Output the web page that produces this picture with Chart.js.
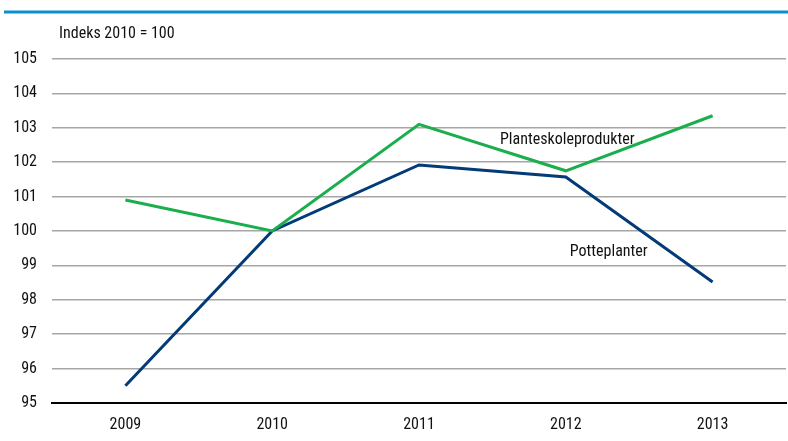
<!DOCTYPE html>
<html><head><meta charset="utf-8">
<script src="https://cdn.jsdelivr.net/npm/chart.js@4"></script>
<style>html,body{margin:0;padding:0;background:#fff}#wrap{position:relative;width:788px;height:441px}canvas{display:block}</style>
</head><body><div id="wrap"><canvas id="c" width="788" height="441"></canvas></div>
<script>
const categories = ['2009','2010','2011','2012','2013'];
const planteskole = [100.9, 100.0, 103.1, 101.75, 103.35];
const potteplanter = [95.5, 100.0, 101.92, 101.57, 98.52];
const yTicks = [95,96,97,98,99,100,101,102,103,104,105];
const unitLabel = 'Indeks 2010 = 100';
const seriesNames = ['Planteskoleprodukter','Potteplanter'];
const FONT = '"Liberation Sans Narrow", "Roboto Condensed", "DejaVu Sans Condensed", sans-serif';

const decor = {
  id:'decor',
  afterDraw(chart){
    const ctx = chart.ctx, x = chart.scales.x, y = chart.scales.y;
    ctx.save();
    ctx.strokeStyle = '#0a8fd0'; ctx.lineWidth = 3;
    ctx.beginPath(); ctx.moveTo(4,12); ctx.lineTo(788,12); ctx.stroke();
    ctx.fillStyle = '#111'; ctx.font = '16px ' + FONT;
    ctx.textBaseline = 'middle'; ctx.textAlign = 'left';
    ctx.fillText(unitLabel, 59, 34);
    ctx.fillText(seriesNames[0], x.getPixelForValue(2) + 81, y.getPixelForValue(102.65));
    ctx.fillText(seriesNames[1], x.getPixelForValue(3) + 4, y.getPixelForValue(99.4));
    ctx.restore();
  }
};

new Chart(document.getElementById('c'), {
  type:'line',
  data:{labels:categories, datasets:[
    {label:seriesNames[0], data:planteskole, borderColor:'#1aae4c', borderWidth:3, pointRadius:0, tension:0, fill:false},
    {label:seriesNames[1], data:potteplanter, borderColor:'#033a78', borderWidth:3, pointRadius:0, tension:0, fill:false}
  ]},
  options:{
    responsive:false, animation:false, devicePixelRatio:1,
    layout:{padding:{top:59, right:2, bottom:0, left:0}},
    plugins:{legend:{display:false}, tooltip:{enabled:false}, title:{display:false}},
    scales:{
      x:{offset:true,
        afterFit(s){ s.height = 38; },
        grid:{display:false, drawTicks:false},
        border:{display:true, color:'#000', width:2},
        ticks:{color:'#111', font:{family:FONT, size:16}, padding:12}
      },
      y:{min:95, max:105,
        afterFit(s){ s.width = 52; },
        afterBuildTicks(s){ s.ticks = yTicks.map(v=>({value:v})); },
        grid:{color:(c)=> c.tick && c.tick.value===95 ? '#000' : '#a6a6a6', lineWidth:(c)=> c.tick && c.tick.value===95 ? 2 : 1.5, drawTicks:false},
        border:{display:false},
        ticks:{color:'#111', font:{family:FONT, size:16}, padding:15}
      }
    }
  },
  plugins:[decor]
});
</script></body></html>
